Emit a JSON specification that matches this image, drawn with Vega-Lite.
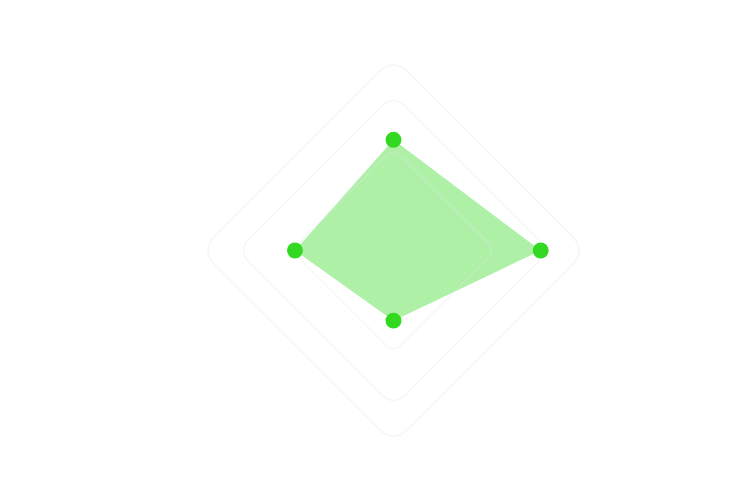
{
  "$schema": "https://vega.github.io/schema/vega-lite/v6.json",
  "width": 740,
  "height": 498,
  "autosize": {"type": "fit", "contains": "padding"},
  "padding": 0,
  "background": "white",
  "config": {"view": {"stroke": null}},
  "datasets": {
    "series": [
      {"axis": "A", "angle": 0, "value": 57.3},
      {"axis": "B", "angle": 90, "value": 76.2},
      {"axis": "C", "angle": 180, "value": 36.3},
      {"axis": "D", "angle": 270, "value": 51.0}
    ],
    "rings": [
      {"level": 52.8},
      {"level": 80.9},
      {"level": 100}
    ]
  },
  "layer": [
    {
      "data": {"name": "series"},
      "transform": [
        {"calculate": "datum.value * sin(datum.angle * PI / 180)", "as": "px"},
        {"calculate": "datum.value * cos(datum.angle * PI / 180)", "as": "py"}
      ],
      "mark": {"type": "line", "interpolate": "linear-closed", "fill": "#33d921", "fillOpacity": 0.4, "stroke": "#33d921", "strokeOpacity": 0, "strokeWidth": 0},
      "encoding": {
        "x": {"field": "px", "type": "quantitative", "scale": {"domain": [-203.67, 179.35], "nice": false, "zero": false}, "axis": null},
        "y": {"field": "py", "type": "quantitative", "scale": {"domain": [-128.1, 129.66], "nice": false, "zero": false}, "axis": null},
        "order": {"field": "angle", "type": "quantitative"}
      }
    },
    {
      "data": {"name": "rings"},
      "mark": {
        "type": "point",
        "shape": "M -0.08,-0.92 Q 0,-1 0.08,-0.92 L 0.92,-0.08 Q 1,0 0.92,0.08 L 0.08,0.92 Q 0,1 -0.08,0.92 L -0.92,0.08 Q -1,0 -0.92,-0.08 Z",
        "filled": false,
        "stroke": "#e4e4f2",
        "strokeWidth": 1.5,
        "opacity": 1
      },
      "encoding": {
        "x": {"datum": 0, "type": "quantitative", "scale": {"domain": [-203.67, 179.35], "nice": false, "zero": false}, "axis": null},
        "y": {"datum": 0, "type": "quantitative", "scale": {"domain": [-128.1, 129.66], "nice": false, "zero": false}, "axis": null},
        "size": {"field": "level", "type": "quantitative", "scale": {"type": "pow", "exponent": 2, "domain": [0, 100], "range": [0, 149305]}, "legend": null},
        "strokeOpacity": {"field": "level", "type": "ordinal", "scale": {"domain": [52.8, 80.9, 100], "range": [0.3, 0.4, 0.9]}, "legend": null}
      }
    },
    {
      "data": {"name": "series"},
      "transform": [
        {"calculate": "datum.value * sin(datum.angle * PI / 180)", "as": "px"},
        {"calculate": "datum.value * cos(datum.angle * PI / 180)", "as": "py"}
      ],
      "mark": {"type": "point", "filled": true, "shape": "circle", "size": 254, "color": "#33d921", "opacity": 1},
      "encoding": {
        "x": {"field": "px", "type": "quantitative", "scale": {"domain": [-203.67, 179.35], "nice": false, "zero": false}, "axis": null},
        "y": {"field": "py", "type": "quantitative", "scale": {"domain": [-128.1, 129.66], "nice": false, "zero": false}, "axis": null}
      }
    }
  ]
}
